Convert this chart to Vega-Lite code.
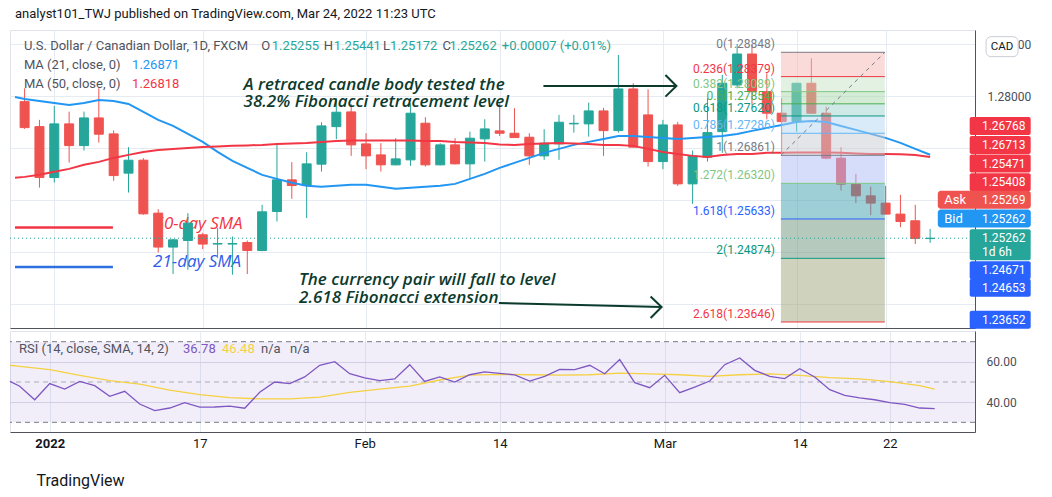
{
  "$schema": "https://vega.github.io/schema/vega-lite/v6.json",
  "background": "white",
  "padding": {"left": 6, "top": 7, "right": 4, "bottom": 4},
  "title": {"text": "analyst101_TWJ published on TradingView.com, Mar 24, 2022 11:23 UTC", "anchor": "start", "fontSize": 13, "fontWeight": "normal", "font": "Roboto", "color": "#131722", "offset": 9, "frame": "group", "dx": 5},
  "config": {
    "view": {"stroke": "#e0e3eb"},
    "font": "Roboto",
    "concat": {"spacing": 0}
  },
  "spacing": 0,
  "vconcat": [
    {
      "width": 965,
      "height": 298,
      "resolve": {"scale": {"color": "independent"}},
      "data": {"values": [
        {"i":0,"o":1.27896,"h":1.28154,"l":1.27370,"c":1.27395},
        {"i":1,"o":1.27414,"h":1.27544,"l":1.26239,"c":1.26432},
        {"i":2,"o":1.26432,"h":1.27813,"l":1.26336,"c":1.27467},
        {"i":3,"o":1.27467,"h":1.27704,"l":1.26721,"c":1.27048},
        {"i":4,"o":1.27048,"h":1.27704,"l":1.26952,"c":1.27582},
        {"i":5,"o":1.27582,"h":1.28154,"l":1.27106,"c":1.27268},
        {"i":6,"o":1.27274,"h":1.27341,"l":1.26368,"c":1.26470},
        {"i":7,"o":1.26517,"h":1.27018,"l":1.26143,"c":1.26767},
        {"i":8,"o":1.26767,"h":1.26806,"l":1.25713,"c":1.25732},
        {"i":9,"o":1.25746,"h":1.25823,"l":1.24987,"c":1.25091},
        {"i":10,"o":1.25091,"h":1.25251,"l":1.24571,"c":1.25231},
        {"i":11,"o":1.25218,"h":1.25746,"l":1.24653,"c":1.25553},
        {"i":12,"o":1.25328,"h":1.25366,"l":1.25052,"c":1.25149},
        {"i":13,"o":1.25149,"h":1.25457,"l":1.24879,"c":1.25160},
        {"i":14,"o":1.25149,"h":1.25295,"l":1.24557,"c":1.25160},
        {"i":15,"o":1.25179,"h":1.25218,"l":1.24571,"c":1.25025},
        {"i":16,"o":1.25025,"h":1.25906,"l":1.25010,"c":1.25771},
        {"i":17,"o":1.25777,"h":1.27062,"l":1.25584,"c":1.26388},
        {"i":18,"o":1.26388,"h":1.26729,"l":1.26021,"c":1.26278},
        {"i":19,"o":1.26278,"h":1.26921,"l":1.25650,"c":1.26696},
        {"i":20,"o":1.26690,"h":1.27499,"l":1.26547,"c":1.27428},
        {"i":21,"o":1.27414,"h":1.27962,"l":1.27172,"c":1.27692},
        {"i":22,"o":1.27698,"h":1.27850,"l":1.26850,"c":1.27062},
        {"i":23,"o":1.27081,"h":1.27287,"l":1.26594,"c":1.26850},
        {"i":24,"o":1.26869,"h":1.27095,"l":1.26547,"c":1.26677},
        {"i":25,"o":1.26677,"h":1.27191,"l":1.26667,"c":1.26792},
        {"i":26,"o":1.26773,"h":1.27865,"l":1.26657,"c":1.27673},
        {"i":27,"o":1.27480,"h":1.27596,"l":1.26644,"c":1.26677},
        {"i":28,"o":1.26677,"h":1.27095,"l":1.26667,"c":1.27062},
        {"i":29,"o":1.27062,"h":1.27191,"l":1.26686,"c":1.26696},
        {"i":30,"o":1.26696,"h":1.27318,"l":1.26420,"c":1.27191},
        {"i":31,"o":1.27178,"h":1.27557,"l":1.26740,"c":1.27370},
        {"i":32,"o":1.27332,"h":1.27865,"l":1.27235,"c":1.27287},
        {"i":33,"o":1.27287,"h":1.27769,"l":1.27197,"c":1.27203},
        {"i":34,"o":1.27210,"h":1.27287,"l":1.26677,"c":1.26850},
        {"i":35,"o":1.26850,"h":1.27364,"l":1.26773,"c":1.27095},
        {"i":36,"o":1.27081,"h":1.27640,"l":1.26773,"c":1.27499},
        {"i":37,"o":1.27467,"h":1.27640,"l":1.27299,"c":1.27478},
        {"i":38,"o":1.27467,"h":1.27877,"l":1.27222,"c":1.27717},
        {"i":39,"o":1.27717,"h":1.27775,"l":1.26850,"c":1.27337},
        {"i":40,"o":1.27337,"h":1.28796,"l":1.27299,"c":1.28141},
        {"i":41,"o":1.28141,"h":1.28251,"l":1.27014,"c":1.27018},
        {"i":42,"o":1.27640,"h":1.28135,"l":1.26644,"c":1.26740},
        {"i":43,"o":1.26740,"h":1.27544,"l":1.26594,"c":1.27447},
        {"i":44,"o":1.27447,"h":1.27505,"l":1.26272,"c":1.26310},
        {"i":45,"o":1.26310,"h":1.26952,"l":1.25925,"c":1.26850},
        {"i":46,"o":1.26825,"h":1.27962,"l":1.26740,"c":1.27299},
        {"i":47,"o":1.27318,"h":1.28411,"l":1.26908,"c":1.28251},
        {"i":48,"o":1.28218,"h":1.29008,"l":1.28154,"c":1.28815},
        {"i":49,"o":1.28815,"h":1.28989,"l":1.27833,"c":1.28089},
        {"i":50,"o":1.28089,"h":1.28443,"l":1.27557,"c":1.27673},
        {"i":51,"o":1.27673,"h":1.27962,"l":1.26902,"c":1.27511},
        {"i":52,"o":1.27511,"h":1.28257,"l":1.27318,"c":1.28251},
        {"i":53,"o":1.28251,"h":1.28732,"l":1.27669,"c":1.27673},
        {"i":54,"o":1.27673,"h":1.27800,"l":1.26786,"c":1.26806},
        {"i":55,"o":1.26806,"h":1.27018,"l":1.26181,"c":1.26305},
        {"i":56,"o":1.26305,"h":1.26503,"l":1.25939,"c":1.26079},
        {"i":57,"o":1.26079,"h":1.26258,"l":1.25707,"c":1.25939},
        {"i":58,"o":1.25939,"h":1.26272,"l":1.25723,"c":1.25727},
        {"i":59,"o":1.25727,"h":1.26099,"l":1.25476,"c":1.25584},
        {"i":60,"o":1.25598,"h":1.25906,"l":1.25149,"c":1.25255},
        {"i":61,"o":1.25255,"h":1.25441,"l":1.25172,"c":1.25262}
      ]},
      "layer": [
        {
          "data": {"values": [
            {"s":"50","k":-0.647,"p":1.25468},{"s":"50","k":5.95,"p":1.25468},
            {"s":"21","k":-0.647,"p":1.24705},{"s":"21","k":5.95,"p":1.24705}
          ]},
          "mark": {"type": "line", "strokeWidth": 2.5, "strokeCap": "butt"},
          "encoding": {
            "x": {"field": "k", "type": "quantitative", "scale": {"domain": [-0.647, 63.687], "nice": false, "zero": false},
              "axis": {"orient": "bottom", "values": [2, 12, 23, 32, 43, 52, 58], "labels": false, "ticks": false, "grid": true, "gridColor": "#e6ebf1", "domainColor": "#50535e", "title": null}},
            "y": {"field": "p", "type": "quantitative", "scale": {"domain": [1.2353, 1.29278], "nice": false, "zero": false},
              "axis": {"orient": "right", "values": [1.24, 1.25, 1.26, 1.27, 1.28, 1.29], "labelExpr": "datum.value > 1.275 ? format(datum.value, '.5f') : ''", "ticks": false, "labelPadding": 12, "labelFontSize": 12, "labelFont": "Roboto", "labelColor": "#4a4e59", "labelAlign": "left", "labelBaseline": "middle", "grid": true, "gridColor": "#e6ebf1", "domainColor": "#50535e", "title": null}},
            "color": {"field": "s", "type": "nominal", "scale": {"domain": ["21", "50"], "range": ["#2f6fe0", "#f23645"]}, "legend": null}
          }
        },
        {
          "data": {"values": [
            {"t":"50-day SMA","s":"50","k":11.72,"p":1.25540},
            {"t":"21-day SMA","s":"21","k":11.62,"p":1.24794}
          ]},
          "mark": {"type": "text", "font": "Open Sans", "fontStyle": "italic", "fontSize": 17, "align": "center", "baseline": "middle"},
          "encoding": {
            "x": {"field": "k", "type": "quantitative"},
            "y": {"field": "p", "type": "quantitative"},
            "text": {"field": "t"},
            "color": {"field": "s", "type": "nominal", "scale": {"domain": ["21", "50"], "range": ["#2f5bea", "#f23645"]}, "legend": null}
          }
        },
        {
          "mark": {"type": "rule", "strokeWidth": 1},
          "encoding": {
            "x": {"field": "i", "type": "quantitative"},
            "y": {"field": "l", "type": "quantitative"},
            "y2": {"field": "h"},
            "color": {"condition": {"test": "datum.c >= datum.o", "value": "#26a69a"}, "value": "#ef5350"}
          }
        },
        {
          "mark": {"type": "bar", "size": 9, "orient": "vertical", "strokeWidth": 1},
          "encoding": {
            "x": {"field": "i", "type": "quantitative"},
            "y": {"field": "o", "type": "quantitative"},
            "y2": {"field": "c"},
            "color": {"condition": {"test": "datum.c >= datum.o", "value": "#26a69a"}, "value": "#ef5350"},
            "stroke": {"condition": {"test": "datum.c >= datum.o", "value": "#26a69a"}, "value": "#ef5350"}
          }
        },
        {
          "data": {"name": "sma", "values": [
            {"i":-0.647,"ma21":1.27987,"ma50":1.26426},
            {"i":0,"ma21":1.27948,"ma50":1.26445},{"i":1,"ma21":1.27910,"ma50":1.26484},{"i":2,"ma21":1.27871,"ma50":1.26542},
            {"i":3,"ma21":1.27832,"ma50":1.26599},{"i":4,"ma21":1.27871,"ma50":1.26677},{"i":5,"ma21":1.27929,"ma50":1.26734},
            {"i":6,"ma21":1.27910,"ma50":1.26811},{"i":7,"ma21":1.27852,"ma50":1.26869},{"i":8,"ma21":1.27698,"ma50":1.26926},
            {"i":9,"ma21":1.27544,"ma50":1.26965},{"i":10,"ma21":1.27428,"ma50":1.26985},{"i":11,"ma21":1.27274,"ma50":1.27004},
            {"i":12,"ma21":1.27120,"ma50":1.27023},{"i":13,"ma21":1.26926,"ma50":1.27033},{"i":14,"ma21":1.26754,"ma50":1.27043},
            {"i":15,"ma21":1.26619,"ma50":1.27052},{"i":16,"ma21":1.26484,"ma50":1.27062},{"i":17,"ma21":1.26407,"ma50":1.27081},
            {"i":18,"ma21":1.26330,"ma50":1.27091},{"i":19,"ma21":1.26272,"ma50":1.27100},{"i":20,"ma21":1.26253,"ma50":1.27120},
            {"i":21,"ma21":1.26272,"ma50":1.27139},{"i":22,"ma21":1.26291,"ma50":1.27149},{"i":23,"ma21":1.26291,"ma50":1.27149},
            {"i":24,"ma21":1.26253,"ma50":1.27149},{"i":25,"ma21":1.26214,"ma50":1.27149},{"i":26,"ma21":1.26234,"ma50":1.27149},
            {"i":27,"ma21":1.26253,"ma50":1.27139},{"i":28,"ma21":1.26272,"ma50":1.27139},{"i":29,"ma21":1.26310,"ma50":1.27120},
            {"i":30,"ma21":1.26407,"ma50":1.27110},{"i":31,"ma21":1.26503,"ma50":1.27100},{"i":32,"ma21":1.26619,"ma50":1.27071},
            {"i":33,"ma21":1.26715,"ma50":1.27062},{"i":34,"ma21":1.26811,"ma50":1.27081},{"i":35,"ma21":1.26908,"ma50":1.27091},
            {"i":36,"ma21":1.26985,"ma50":1.27100},{"i":37,"ma21":1.27062,"ma50":1.27091},{"i":38,"ma21":1.27120,"ma50":1.27081},
            {"i":39,"ma21":1.27177,"ma50":1.27062},{"i":40,"ma21":1.27235,"ma50":1.27062},{"i":41,"ma21":1.27235,"ma50":1.27043},
            {"i":42,"ma21":1.27216,"ma50":1.26985},{"i":43,"ma21":1.27197,"ma50":1.26926},{"i":44,"ma21":1.27177,"ma50":1.26888},
            {"i":45,"ma21":1.27197,"ma50":1.26850},{"i":46,"ma21":1.27216,"ma50":1.26830},{"i":47,"ma21":1.27235,"ma50":1.26869},
            {"i":48,"ma21":1.27274,"ma50":1.26888},{"i":49,"ma21":1.27332,"ma50":1.26888},{"i":50,"ma21":1.27390,"ma50":1.26908},
            {"i":51,"ma21":1.27447,"ma50":1.26908},{"i":52,"ma21":1.27505,"ma50":1.26914},{"i":53,"ma21":1.27524,"ma50":1.26917},
            {"i":54,"ma21":1.27505,"ma50":1.26914},{"i":55,"ma21":1.27428,"ma50":1.26908},{"i":56,"ma21":1.27351,"ma50":1.26898},
            {"i":57,"ma21":1.27274,"ma50":1.26888},{"i":58,"ma21":1.27197,"ma50":1.26888},{"i":59,"ma21":1.27100,"ma50":1.26879},
            {"i":60,"ma21":1.26985,"ma50":1.26869},{"i":61,"ma21":1.26871,"ma50":1.26830}
          ]},
          "mark": {"type": "line", "color": "#2196f3", "strokeWidth": 2, "strokeCap": "butt"},
          "encoding": {
            "x": {"field": "i", "type": "quantitative"},
            "y": {"field": "ma21", "type": "quantitative"}
          }
        },
        {
          "data": {"name": "sma"},
          "mark": {"type": "line", "color": "#f23645", "strokeWidth": 2, "strokeCap": "butt"},
          "encoding": {
            "x": {"field": "i", "type": "quantitative"},
            "y": {"field": "ma50", "type": "quantitative"}
          }
        },
        {
          "data": {"values": [
            {"b":"0.236","top":1.28848,"bot":1.28379},
            {"b":"0.382","top":1.28379,"bot":1.28089},
            {"b":"0.5","top":1.28089,"bot":1.27854},
            {"b":"0.618","top":1.27854,"bot":1.27620},
            {"b":"0.786","top":1.27620,"bot":1.27286},
            {"b":"1","top":1.27286,"bot":1.26861},
            {"b":"1.272","top":1.26861,"bot":1.26320},
            {"b":"1.618","top":1.26320,"bot":1.25633},
            {"b":"2","top":1.25633,"bot":1.24874},
            {"b":"2.618","top":1.24874,"bot":1.23646}
          ]},
          "mark": {"type": "rect", "opacity": 0.5},
          "encoding": {
            "x": {"datum": 50.95},
            "x2": {"datum": 57.95},
            "y": {"field": "top", "type": "quantitative"},
            "y2": {"field": "bot"},
            "color": {"field": "b", "type": "nominal", "legend": null,
              "scale": {"domain": ["0.236","0.382","0.5","0.618","0.786","1","1.272","1.618","2","2.618"],
                        "range": ["#f7b5b5","#c7e3c7","#a9d9ad","#9fd3cd","#b3d5f1","#c9cbd1","#abbbf7","#3d9faf","#6d937b","#9fa579"]}}
          }
        },
        {
          "data": {"name": "fib", "values": [
            {"lv":"0","p":1.28848,"t":"0(1.28848)"},
            {"lv":"0.236","p":1.28379,"t":"0.236(1.28379)"},
            {"lv":"0.382","p":1.28089,"t":"0.382(1.28089)"},
            {"lv":"0.5","p":1.27854,"t":"0.5(1.27854)"},
            {"lv":"0.618","p":1.27620,"t":"0.618(1.27620)"},
            {"lv":"0.786","p":1.27286,"t":"0.786(1.27286)"},
            {"lv":"1","p":1.26861,"t":"1(1.26861)"},
            {"lv":"1.272","p":1.26320,"t":"1.272(1.26320)"},
            {"lv":"1.618","p":1.25633,"t":"1.618(1.25633)"},
            {"lv":"2","p":1.24874,"t":"2(1.24874)"},
            {"lv":"2.618","p":1.23646,"t":"2.618(1.23646)"}
          ]},
          "mark": {"type": "rule", "strokeWidth": 1},
          "encoding": {
            "x": {"datum": 50.95},
            "x2": {"datum": 57.95},
            "y": {"field": "p", "type": "quantitative"},
            "color": {"field": "lv", "type": "nominal", "legend": null,
              "scale": {"domain": ["0","0.236","0.382","0.5","0.618","0.786","1","1.272","1.618","2","2.618"],
                        "range": ["#787b86","#f23645","#81c784","#4caf50","#089981","#64b5f6","#787b86","#81c784","#2962ff","#089981","#f23645"]}}
          }
        },
        {
          "data": {"values": [{"k":50.95,"p":1.26861},{"k":57.95,"p":1.28848}]},
          "mark": {"type": "line", "color": "#787b86", "strokeWidth": 1, "strokeDash": [4, 4]},
          "encoding": {
            "x": {"field": "k", "type": "quantitative"},
            "y": {"field": "p", "type": "quantitative"}
          }
        },
        {
          "data": {"name": "fib"},
          "mark": {"type": "text", "font": "Roboto", "fontSize": 12, "align": "right", "baseline": "alphabetic", "dy": -4},
          "encoding": {
            "x": {"datum": 50.55},
            "y": {"field": "p", "type": "quantitative"},
            "text": {"field": "t"},
            "color": {"field": "lv", "type": "nominal", "legend": null,
              "scale": {"domain": ["0","0.236","0.382","0.5","0.618","0.786","1","1.272","1.618","2","2.618"],
                        "range": ["#787b86","#f23645","#81c784","#4caf50","#089981","#64b5f6","#787b86","#81c784","#2962ff","#089981","#f23645"]}}
          }
        },
        {
          "data": {"values": [{"p": 1.25262}]},
          "mark": {"type": "rule", "color": "#26a69a", "strokeWidth": 1, "strokeDash": [1, 3]},
          "encoding": {
            "y": {"field": "p", "type": "quantitative"}
          }
        },
        {
          "data": {"values": [
            {"t":"A retraced candle body tested the","k":14.75,"p":1.28218},
            {"t":"38.2% Fibonacci retracement level","k":14.75,"p":1.27896},
            {"t":"The currency pair will fall to level","k":18.49,"p":1.24461},
            {"t":"2.618 Fibonacci extension","k":18.49,"p":1.24114}
          ]},
          "mark": {"type": "text", "font": "Open Sans", "fontStyle": "italic", "fontWeight": 600, "fontSize": 17, "align": "left", "baseline": "middle", "color": "#0c3b2e"},
          "encoding": {
            "x": {"field": "k", "type": "quantitative"},
            "y": {"field": "p", "type": "quantitative"},
            "text": {"field": "t"}
          }
        },
        {
          "data": {"values": [
            {"s":"a1","o":1,"k":34.95,"p":1.28199},{"s":"a1","o":2,"k":43.91,"p":1.28199},
            {"s":"h1","o":1,"k":43.17,"p":1.28411},{"s":"h1","o":2,"k":43.91,"p":1.28199},{"s":"h1","o":3,"k":43.17,"p":1.27993},
            {"s":"a2","o":1,"k":31.95,"p":1.24012},{"s":"a2","o":2,"k":42.91,"p":1.23935},
            {"s":"h2","o":1,"k":42.17,"p":1.24139},{"s":"h2","o":2,"k":42.91,"p":1.23935},{"s":"h2","o":3,"k":42.17,"p":1.23723}
          ]},
          "mark": {"type": "line", "color": "#0c3b2e", "strokeWidth": 2},
          "encoding": {
            "x": {"field": "k", "type": "quantitative"},
            "y": {"field": "p", "type": "quantitative"},
            "detail": {"field": "s"},
            "order": {"field": "o"}
          }
        },
        {
          "data": {"values": [
            {"t":"U.S. Dollar / Canadian Dollar, 1D, FXCM","r":"lab","k":-0.047,"p":1.28969},
            {"t":"O","r":"lab","k":15.95,"p":1.28969},
            {"t":"1.25255","r":"val","k":16.65,"p":1.28969},
            {"t":"H","r":"lab","k":20.15,"p":1.28969},
            {"t":"1.25441","r":"val","k":20.82,"p":1.28969},
            {"t":"L","r":"lab","k":24.15,"p":1.28969},
            {"t":"1.25172","r":"val","k":24.62,"p":1.28969},
            {"t":"C","r":"lab","k":28.15,"p":1.28969},
            {"t":"1.25262","r":"val","k":28.62,"p":1.28969},
            {"t":"+0.00007 (+0.01%)","r":"val","k":32.15,"p":1.28969},
            {"t":"MA (21, close, 0)","r":"lab","k":-0.047,"p":1.28603},
            {"t":"1.26871","r":"ma21","k":7.24,"p":1.28603},
            {"t":"MA (50, close, 0)","r":"lab","k":-0.047,"p":1.28237},
            {"t":"1.26818","r":"ma50","k":7.24,"p":1.28237}
          ]},
          "mark": {"type": "text", "font": "Roboto", "fontSize": 13, "align": "left", "baseline": "middle"},
          "encoding": {
            "x": {"field": "k", "type": "quantitative"},
            "y": {"field": "p", "type": "quantitative"},
            "text": {"field": "t"},
            "color": {"field": "r", "type": "nominal", "legend": null,
              "scale": {"domain": ["lab","val","ma21","ma50"], "range": ["#50535e","#26a69a","#2196f3","#f23645"]}}
          }
        },
        {
          "data": {"values": [
            {"kind":"red","pos":1.27428},{"kind":"red","pos":1.27062},{"kind":"red","pos":1.26702},{"kind":"red","pos":1.26343},
            {"kind":"blue","pos":1.24644},{"kind":"blue","pos":1.24307},{"kind":"blue","pos":1.23690}
          ]},
          "mark": {"type": "tick", "orient": "horizontal", "size": 61, "thickness": 18, "opacity": 1, "cornerRadius": 2},
          "encoding": {
            "x": {"datum": 65.72},
            "y": {"field": "pos", "type": "quantitative"},
            "color": {"field": "kind", "type": "nominal", "legend": null, "scale": {"domain": ["red","blue"], "range": ["#f23645","#2962ff"]}}
          }
        },
        {
          "data": {"values": [{"kind":"ask","pos":1.26002},{"kind":"bid","pos":1.25642}]},
          "mark": {"type": "tick", "orient": "horizontal", "size": 93, "thickness": 18, "opacity": 1, "cornerRadius": 3},
          "encoding": {
            "x": {"datum": 64.65},
            "y": {"field": "pos", "type": "quantitative"},
            "color": {"field": "kind", "type": "nominal", "legend": null, "scale": {"domain": ["ask","bid"], "range": ["#ef5350","#2196f3"]}}
          }
        },
        {
          "data": {"values": [{"pos":1.25135}]},
          "mark": {"type": "tick", "orient": "horizontal", "size": 61, "thickness": 31, "opacity": 1, "color": "#26a69a", "cornerRadius": 2},
          "encoding": {
            "x": {"datum": 65.72},
            "y": {"field": "pos", "type": "quantitative"}
          }
        },
        {
          "data": {"values": [
            {"t":"1.26768","pos":1.27428},{"t":"1.26713","pos":1.27062},{"t":"1.25471","pos":1.26702},{"t":"1.25408","pos":1.26343},
            {"t":"1.25269","pos":1.26002},{"t":"1.25262","pos":1.25642},{"t":"1.25262","pos":1.25270},{"t":"1d  6h","pos":1.25000},
            {"t":"1.24671","pos":1.24644},{"t":"1.24653","pos":1.24307},{"t":"1.23652","pos":1.23690}
          ]},
          "mark": {"type": "text", "font": "Roboto", "fontSize": 12, "align": "left", "baseline": "middle", "color": "white"},
          "encoding": {
            "x": {"datum": 64.49},
            "y": {"field": "pos", "type": "quantitative"},
            "text": {"field": "t"}
          }
        },
        {
          "data": {"values": [{"t":"Ask","pos":1.26002},{"t":"Bid","pos":1.25642}]},
          "mark": {"type": "text", "font": "Roboto", "fontSize": 13, "align": "left", "baseline": "middle", "color": "white"},
          "encoding": {
            "x": {"datum": 61.95},
            "y": {"field": "pos", "type": "quantitative"},
            "text": {"field": "t"}
          }
        },
        {
          "data": {"values": [{"t":"CAD","pos":1.28956}]},
          "mark": {"type": "tick", "orient": "horizontal", "size": 32, "thickness": 20, "color": "white", "opacity": 1, "stroke": "#c9ccd4", "strokeWidth": 1, "cornerRadius": 5},
          "encoding": {
            "x": {"datum": 65.85},
            "y": {"field": "pos", "type": "quantitative"}
          }
        },
        {
          "data": {"values": [{"t":"CAD","pos":1.28956}]},
          "mark": {"type": "text", "font": "Roboto", "fontSize": 11.5, "align": "center", "baseline": "middle", "color": "#131722"},
          "encoding": {
            "x": {"datum": 65.85},
            "y": {"field": "pos", "type": "quantitative"},
            "text": {"field": "t"}
          }
        }
      ]
    },
    {
      "width": 965,
      "height": 101,
      "layer": [
        {
          "data": {"values": [{"lo": 30, "hi": 70}]},
          "mark": {"type": "rect", "color": "#7e57c2", "opacity": 0.1},
          "encoding": {
            "y": {"field": "lo", "type": "quantitative", "scale": {"domain": [25.2, 75.3], "nice": false, "zero": false},
              "axis": {"orient": "right", "values": [40, 60], "format": ".2f", "ticks": false, "labelPadding": 11, "labelFontSize": 12, "labelFont": "Roboto", "labelColor": "#4a4e59", "labelAlign": "left", "grid": true, "gridColor": "#dcdde8", "domainColor": "#50535e", "title": null}},
            "y2": {"field": "hi"}
          }
        },
        {
          "data": {"values": [{"v": 70, "t": "e"}, {"v": 30, "t": "e"}, {"v": 50, "t": "m"}]},
          "mark": {"type": "rule", "strokeWidth": 1, "strokeDash": [5, 4]},
          "encoding": {
            "y": {"field": "v", "type": "quantitative"},
            "color": {"condition": {"test": "datum.t == 'm'", "value": "#a9acb5"}, "value": "#787b86"}
          }
        },
        {
          "data": {"values": [
            {"i":-0.647,"ma":58.3},{"i":0,"ma":57.8},{"i":2,"ma":56.1},{"i":4,"ma":53.3},{"i":6,"ma":50.7},{"i":8,"ma":48.9},
            {"i":10,"ma":46.0},{"i":12,"ma":43.7},{"i":14,"ma":42.3},{"i":16,"ma":41.6},{"i":18,"ma":41.6},{"i":20,"ma":42.5},
            {"i":22,"ma":44.9},{"i":24,"ma":46.5},{"i":26,"ma":48.0},{"i":28,"ma":51.0},{"i":30,"ma":53.4},{"i":32,"ma":53.8},
            {"i":34,"ma":53.6},{"i":36,"ma":53.4},{"i":38,"ma":53.6},{"i":40,"ma":54.4},{"i":42,"ma":54.0},{"i":44,"ma":53.6},
            {"i":46,"ma":52.8},{"i":48,"ma":53.6},{"i":50,"ma":54.0},{"i":52,"ma":53.3},{"i":54,"ma":52.2},{"i":56,"ma":51.6},
            {"i":58,"ma":50.2},{"i":60,"ma":48.2},{"i":61,"ma":46.48}
          ]},
          "mark": {"type": "line", "color": "#f5d142", "strokeWidth": 1.3, "strokeCap": "butt"},
          "encoding": {
            "x": {"field": "i", "type": "quantitative"},
            "y": {"field": "ma", "type": "quantitative"}
          }
        },
        {
          "data": {"values": [
            {"i":-0.647,"rsi":50.3},
            {"i":0,"rsi":47.9},{"i":1,"rsi":41.2},{"i":2,"rsi":49.2},{"i":3,"rsi":46.5},{"i":4,"rsi":50.3},{"i":5,"rsi":48.2},
            {"i":6,"rsi":42.9},{"i":7,"rsi":45.4},{"i":8,"rsi":39.1},{"i":9,"rsi":35.8},{"i":10,"rsi":37.1},{"i":11,"rsi":39.8},
            {"i":12,"rsi":37.5},{"i":13,"rsi":37.6},{"i":14,"rsi":38.0},{"i":15,"rsi":37.0},{"i":16,"rsi":44.9},{"i":17,"rsi":50.0},
            {"i":18,"rsi":49.2},{"i":19,"rsi":52.5},{"i":20,"rsi":58.3},{"i":21,"rsi":60.1},{"i":22,"rsi":54.1},{"i":23,"rsi":52.0},
            {"i":24,"rsi":50.7},{"i":25,"rsi":51.5},{"i":26,"rsi":58.6},{"i":27,"rsi":50.3},{"i":28,"rsi":52.5},{"i":29,"rsi":50.0},
            {"i":30,"rsi":53.6},{"i":31,"rsi":55.0},{"i":32,"rsi":54.3},{"i":33,"rsi":53.5},{"i":34,"rsi":50.5},{"i":35,"rsi":52.8},
            {"i":36,"rsi":56.3},{"i":37,"rsi":56.1},{"i":38,"rsi":58.3},{"i":39,"rsi":54.1},{"i":40,"rsi":61.1},{"i":41,"rsi":49.7},
            {"i":42,"rsi":47.2},{"i":43,"rsi":53.3},{"i":44,"rsi":44.7},{"i":45,"rsi":47.5},{"i":46,"rsi":50.5},{"i":47,"rsi":58.6},
            {"i":48,"rsi":61.9},{"i":49,"rsi":55.8},{"i":50,"rsi":52.8},{"i":51,"rsi":51.7},{"i":52,"rsi":56.6},{"i":53,"rsi":52.5},
            {"i":54,"rsi":46.2},{"i":55,"rsi":43.4},{"i":56,"rsi":42.1},{"i":57,"rsi":41.2},{"i":58,"rsi":39.8},{"i":59,"rsi":38.9},
            {"i":60,"rsi":37.1},{"i":61,"rsi":36.78}
          ]},
          "mark": {"type": "line", "color": "#7e57c2", "strokeWidth": 1.3, "strokeCap": "butt"},
          "encoding": {
            "x": {"field": "i", "type": "quantitative", "scale": {"domain": [-0.647, 63.687], "nice": false, "zero": false},
              "axis": {"orient": "bottom", "values": [2, 12, 23, 32, 43, 52, 58],
                "labelExpr": "datum.value == 2 ? '2022' : datum.value == 12 ? '17' : datum.value == 23 ? 'Feb' : datum.value == 32 ? '14' : datum.value == 43 ? 'Mar' : datum.value == 52 ? '14' : '22'",
                "ticks": false, "grid": true, "gridColor": "#e6ebf1", "domainColor": "#50535e", "labelPadding": 5, "labelFontSize": 13, "labelFont": "Roboto", "labelColor": "#131722",
                "labelFontWeight": {"condition": {"test": "datum.value == 2", "value": "bold"}, "value": "normal"},
                "title": "TradingView", "titleAnchor": "start", "titleAlign": "left", "titleX": 26, "titleY": 48, "titleBaseline": "middle", "titleFontSize": 16, "titleFont": "Roboto", "titleFontWeight": "normal", "titleColor": "#131722"}},
            "y": {"field": "rsi", "type": "quantitative"}
          }
        },
        {
          "data": {"values": [
            {"t":"RSI (14, close, SMA, 14, 2)","r":"lab","k":-0.047,"v":66.5},
            {"t":"36.78","r":"rsi","k":10.89,"v":66.5},
            {"t":"46.48","r":"ma","k":13.49,"v":66.5},
            {"t":"n/a","r":"lab","k":16.09,"v":66.5},
            {"t":"n/a","r":"lab","k":18.02,"v":66.5}
          ]},
          "mark": {"type": "text", "font": "Roboto", "fontSize": 13, "align": "left", "baseline": "middle"},
          "encoding": {
            "x": {"field": "k", "type": "quantitative"},
            "y": {"field": "v", "type": "quantitative"},
            "text": {"field": "t"},
            "color": {"field": "r", "type": "nominal", "legend": null, "scale": {"domain": ["lab","rsi","ma"], "range": ["#50535e","#7e57c2","#f5d142"]}}
          }
        }
      ],
      "resolve": {"scale": {"color": "independent"}}
    }
  ]
}
